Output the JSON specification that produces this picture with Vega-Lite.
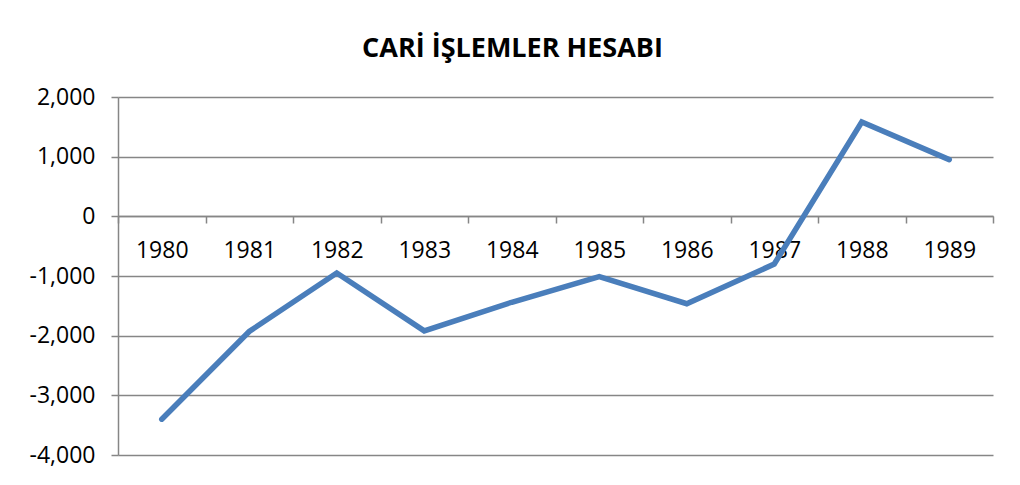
{
  "$schema": "https://vega.github.io/schema/vega-lite/v6.json",
  "width": 875,
  "height": 358,
  "autosize": {"type": "none"},
  "padding": {"left": 118, "top": 97, "right": 27, "bottom": 30},
  "background": "white",
  "title": {"text": "CARİ İŞLEMLER HESABI", "font": "Open Sans", "fontSize": 27, "fontWeight": "bold", "color": "#000000", "anchor": "middle", "dx": -43, "offset": 23},
  "data": {"values": [
    {"year": "1980", "value": -3400},
    {"year": "1981", "value": -1930},
    {"year": "1982", "value": -950},
    {"year": "1983", "value": -1920},
    {"year": "1984", "value": -1440},
    {"year": "1985", "value": -1010},
    {"year": "1986", "value": -1465},
    {"year": "1987", "value": -800},
    {"year": "1988", "value": 1580},
    {"year": "1989", "value": 950}
  ]},
  "mark": {"type": "line", "color": "#4A7EBB", "strokeWidth": 5.5, "strokeCap": "round", "strokeJoin": "miter"},
  "encoding": {
    "x": {
      "field": "year", "type": "ordinal", "bandPosition": 0.5,
      "scale": {"type": "band", "paddingInner": 0, "paddingOuter": 0},
      "axis": {"title": null, "orient": "bottom", "offset": -239, "labelAngle": 0, "tickBand": "extent", "domainColor": "#868686", "domainWidth": 1.5, "tickColor": "#868686", "tickWidth": 1.5, "tickSize": 7, "labelFont": "Open Sans", "labelFontSize": 23, "labelColor": "#000000", "labelPadding": 16}
    },
    "y": {
      "field": "value", "type": "quantitative",
      "scale": {"domain": [-4000, 2000], "nice": false, "zero": false},
      "axis": {"title": null, "values": [-4000, -3000, -2000, -1000, 0, 1000, 2000], "labelExpr": "replace(format(datum.value, ',.0f'), '−', '-')", "grid": true, "gridColor": "#868686", "gridWidth": 1.5, "domainColor": "#868686", "domainWidth": 1.5, "tickColor": "#868686", "tickWidth": 1.5, "tickSize": 7, "labelFont": "Open Sans", "labelFontSize": 23, "labelColor": "#000000", "labelPadding": 16}
    }
  },
  "config": {"view": {"stroke": null}}
}
